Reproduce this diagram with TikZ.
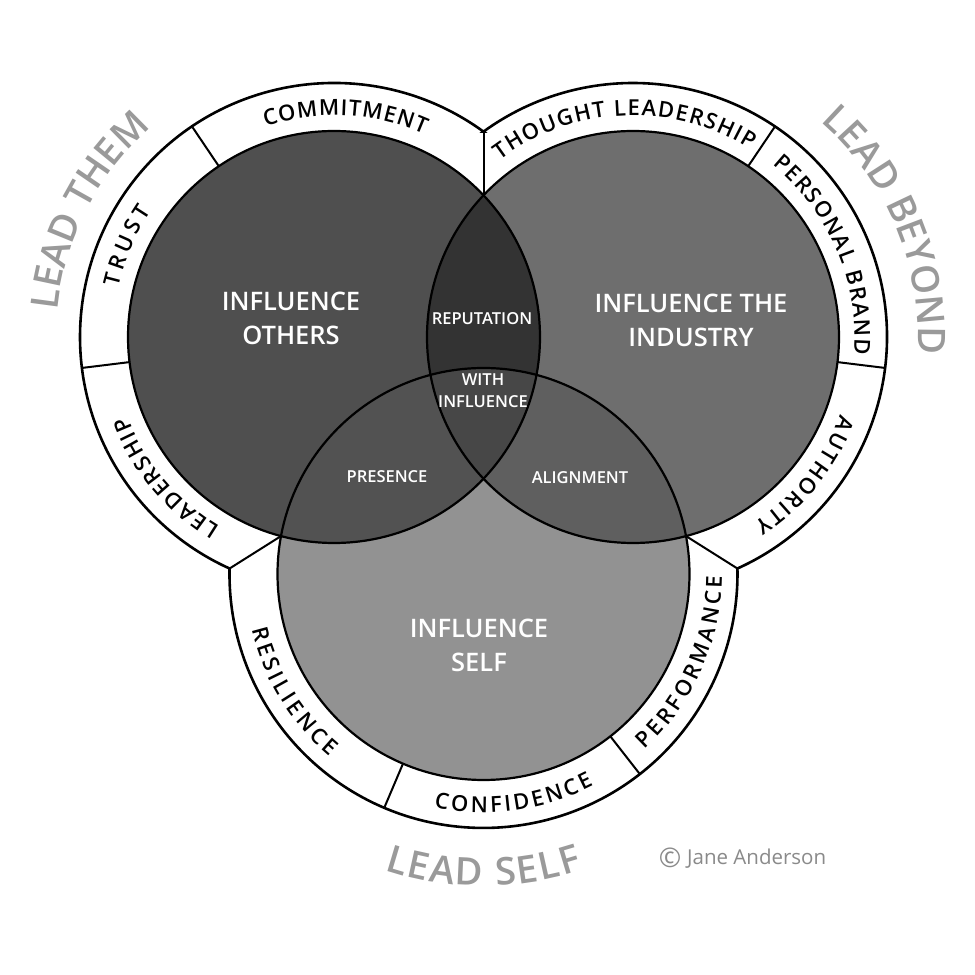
\documentclass[tikz,border=0pt]{standalone}
\usepackage{fontspec}
\setmainfont{Open Sans}
\IfFontExistsTF{Open Sans SemiBold}{\newfontfamily\sbfont{Open Sans SemiBold}}{%
  \IfFontExistsTF{Open Sans Semibold}{\newfontfamily\sbfont{Open Sans Semibold}}{\newcommand\sbfont{\bfseries}}}
\usetikzlibrary{decorations.text}
\definecolor{cLo}{HTML}{4F4F4F}
\definecolor{cRo}{HTML}{6E6E6E}
\definecolor{cBo}{HTML}{929292}
\definecolor{cLR}{HTML}{333333}
\definecolor{cLB}{HTML}{525252}
\definecolor{cRB}{HTML}{5F5F5F}
\definecolor{cLRB}{HTML}{474747}
\definecolor{leadgray}{HTML}{9A9A9A}
\definecolor{copygray}{HTML}{8A8A8A}
\newcommand\bandfont{\fontsize{22}{22}\selectfont\sbfont}
\newcommand\leadfont{\fontsize{38}{38}\selectfont\sbfont}
\begin{document}
\begin{tikzpicture}[x=1pt,y=1pt,
  ringline/.style={line width=2.6pt, line join=miter},
  sepline/.style={line width=2pt},
  circline/.style={line width=2.2pt},
  biglabel/.style={text=white, align=center, font=\fontsize{25.5}{34}\selectfont\sbfont, inner sep=0pt},
  smalllabel/.style={text=white, align=center, font=\fontsize{16.5}{22}\selectfont\sbfont, inner sep=0pt},
  bandpath/.style={decorate, decoration={text along path, text align=fit to path, text={|\bandfont|#1}}},
  leadpath/.style={decorate, decoration={text along path, text align=fit to path, text color=leadgray, text={|\leadfont|#1}}},
]
\useasboundingbox (0,0) rectangle (975,975);
\fill[white] (0,0) rectangle (975,975);
\coordinate (cL) at (334,638);
\coordinate (cR) at (633,638);
\coordinate (cB) at (483.5,401);
\coordinate (nT) at (483.5,843.34);
\coordinate (nLB) at (229.56,406.47);
\coordinate (nRB) at (737.44,406.47);
\coordinate (iT) at (483.5,779.72);
\coordinate (iLB) at (281.03,438.93);
\coordinate (iRB) at (685.97,438.93);
% outer ring
\draw[ringline] (nT) arc[start angle=53.94, end angle=245.72, radius=254]
  arc[start angle=178.77, end angle=361.23, radius=254]
  arc[start angle=-65.72, end angle=126.06, radius=254] -- cycle;
% separators
\draw[sepline] (nT) -- (iT);
\draw[sepline] (nLB) -- (iLB);
\draw[sepline] (nRB) -- (iRB);
\foreach \c/\a in {cL/124, cL/187, cR/56, cR/-7, cB/247, cB/308}
  \draw[sepline] ([shift={(\a:204)}]\c) -- ([shift={(\a:253)}]\c);
% circle fills
\fill[cLo] (cL) circle[radius=206];
\fill[cRo] (cR) circle[radius=206];
\fill[cBo] (cB) circle[radius=206];
\begin{scope}
  \clip (cR) circle[radius=206];
  \fill[cRB] (cB) circle[radius=206];
\end{scope}
\begin{scope}
  \clip (cL) circle[radius=206];
  \fill[cLR] (cR) circle[radius=206];
  \fill[cLB] (cB) circle[radius=206];
  \clip (cR) circle[radius=206];
  \fill[cLRB] (cB) circle[radius=206];
\end{scope}
\draw[circline] (cL) circle[radius=206];
\draw[circline] (cR) circle[radius=206];
\draw[circline] (cB) circle[radius=206];
% band labels
\path[bandpath=COMMITMENT]
  ([shift={(108:221.5)}]cL) arc[start angle=108, end angle=66, radius=221.5];
\path[bandpath=TRUST]
  ([shift={(167:221.5)}]cL) arc[start angle=167, end angle=145.5, radius=221.5];
\path[bandpath=LEADERSHIP]
  ([shift={(239:221.5)}]cL) arc[start angle=239, end angle=201, radius=221.5];
\path[bandpath={THOUGHT LEADERSHIP}]
  ([shift={(127:221.5)}]cR) arc[start angle=127, end angle=58, radius=221.5];
\path[bandpath={PERSONAL BRAND}]
  ([shift={(51:221.5)}]cR) arc[start angle=51, end angle=-4.5, radius=221.5];
\path[bandpath=AUTHORITY]
  ([shift={(-20.5:221.5)}]cR) arc[start angle=-20.5, end angle=-57, radius=221.5];
\path[bandpath=RESILIENCE]
  ([shift={(193.5:238.5)}]cB) arc[start angle=193.5, end angle=230, radius=238.5];
\path[bandpath=CONFIDENCE]
  ([shift={(258:238.5)}]cB) arc[start angle=258, end angle=297.5, radius=238.5];
\path[bandpath=PERFORMANCE]
  ([shift={(312.5:238.5)}]cB) arc[start angle=312.5, end angle=359.5, radius=238.5];
% lead labels
\path[leadpath={LEAD THEM}]
  ([shift={(174.5:278)}]cL) arc[start angle=174.5, end angle=133, radius=278];
\path[leadpath={LEAD BEYOND}]
  ([shift={(49:285)}]cR) arc[start angle=49, end angle=-2.5, radius=285];
\path[leadpath={LEAD SELF}]
  ([shift={(251.5:312)}]cB) arc[start angle=251.5, end angle=288.5, radius=312];
% circle labels
\node[biglabel] (tOthers) at (291,656.5) {INFLUENCE\\OTHERS};
\node[biglabel] (tIndustry) at (691,654.5) {INFLUENCE THE\\INDUSTRY};
\node[biglabel] (tSelf) at (479,329.5) {INFLUENCE\\SELF};
\node[smalllabel] (tRep) at (482,656) {REPUTATION};
\node[smalllabel] (tWith) at (483,584) {WITH\\INFLUENCE};
\node[smalllabel] (tPres) at (387,498) {PRESENCE};
\node[smalllabel] (tAlign) at (580,497) {ALIGNMENT};
\node[text=copygray, font=\fontsize{27}{27}\selectfont, inner sep=0pt] (copysym) at (670,117) {©};
\node[text=copygray, font=\fontsize{20.5}{20.5}\selectfont, inner sep=0pt, anchor=west] (copyname) at (687,116) {Jane Anderson};
\end{tikzpicture}
\end{document}
